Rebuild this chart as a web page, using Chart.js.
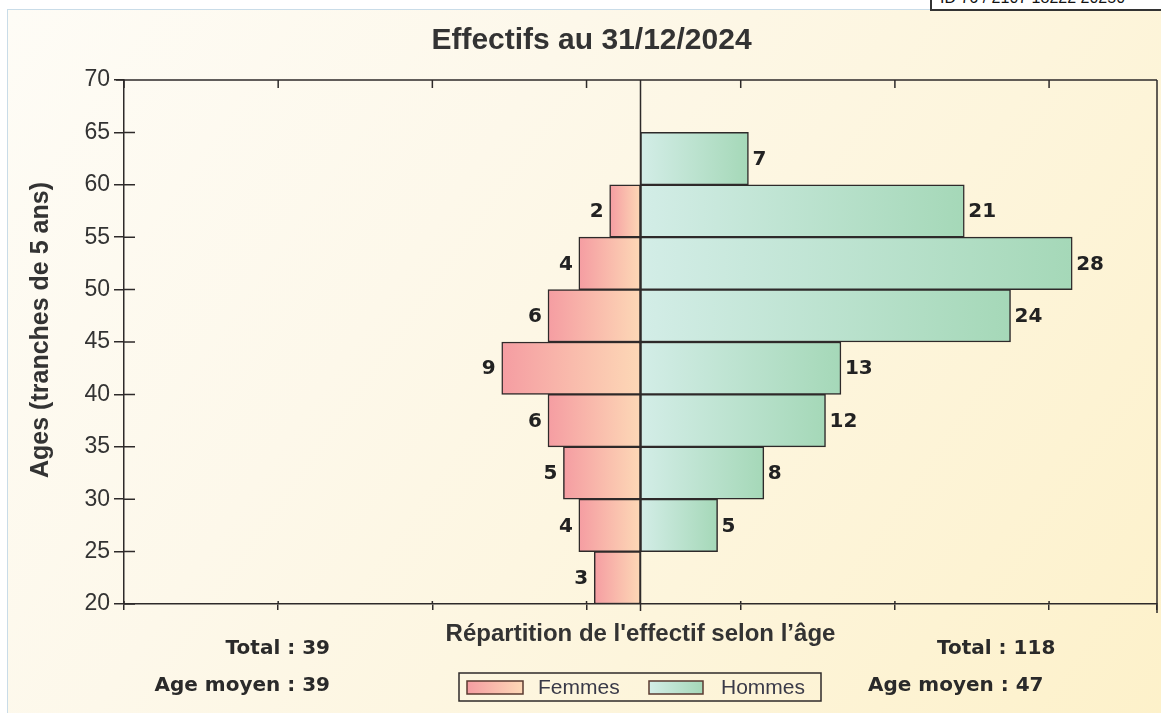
<!DOCTYPE html>
<html><head><meta charset="utf-8">
<script src="https://cdn.jsdelivr.net/npm/chart.js@4/dist/chart.umd.min.js"></script>
<style>
html,body{margin:0;padding:0;background:#fff;width:1161px;height:713px;overflow:hidden;position:relative;}
#bg{position:absolute;left:7px;top:9px;width:1154px;height:704px;border-left:1px solid #c9dce8;border-top:1px solid #c9dce8;background:linear-gradient(125deg,#fefcf6 0%,#fdf8ea 35%,#fdf5dc 65%,#fdf1ca 100%);}
#idbox{position:absolute;left:930px;top:-20px;width:240px;height:27px;border:2px solid #333;background:#fff;font:16px 'Liberation Sans',Arial,sans-serif;color:#111;padding-left:8px;line-height:32px;overflow:hidden;white-space:nowrap;}
canvas{position:absolute;left:0;top:0;}
</style></head><body>
<div id="bg"></div>
<div id="idbox">ID 76 / 2107 18222 20250</div>
<canvas id="c" width="1161" height="713"></canvas>
<script>
// ---- data ----
const ageBandStarts = [20, 25, 30, 35, 40, 45, 50, 55, 60];
const bandWidth = 5;
const femmes = [3, 4, 5, 6, 9, 6, 4, 2, 0];
const hommes = [0, 5, 8, 12, 13, 24, 28, 21, 7];
const yTickValues = [20, 25, 30, 35, 40, 45, 50, 55, 60, 65, 70];
const xTickValues = [-33.5, -23.5, -13.5, -3.5, 6.5, 16.5, 26.5, 33.5];
const seriesLabels = ['Femmes', 'Hommes'];
const totals = [39, 118];
const agesMoyens = [39, 47];
const titleText = 'Effectifs au 31/12/2024';
const xTitle = "Répartition de l'effectif selon l’âge";
const yTitle = 'Ages (tranches de 5 ans)';

// ---- styles ----
const FEM = ['#f59da2', '#fdd8b6'];   // outer, inner
const HOM = ['#d3ede7', '#a5d8b8'];   // inner, outer
const INK = '#2e2a2a';

function femBg(c) {
  const chart = c.chart;
  if (c.type !== 'data' || !chart.chartArea || !c.raw || c.raw.x == null) return FEM[0];
  const xs = chart.scales.x;
  const x1 = xs.getPixelForValue(c.raw.x), x0 = xs.getPixelForValue(0);
  const g = chart.ctx.createLinearGradient(x1, 0, x0 + 0.01, 0);
  g.addColorStop(0, FEM[0]); g.addColorStop(1, FEM[1]);
  return g;
}
function homBg(c) {
  const chart = c.chart;
  if (c.type !== 'data' || !chart.chartArea || !c.raw || c.raw.x == null) return HOM[1];
  const xs = chart.scales.x;
  const x1 = xs.getPixelForValue(c.raw.x), x0 = xs.getPixelForValue(0);
  const g = chart.ctx.createLinearGradient(x0, 0, x1 + 0.01, 0);
  g.addColorStop(0, HOM[0]); g.addColorStop(1, HOM[1]);
  return g;
}

const framePlugin = {
  id: 'frame',
  afterDraw(chart) {
    const {ctx, chartArea: a, scales: {x, y}} = chart;
    ctx.save();
    ctx.strokeStyle = INK; ctx.lineWidth = 1.5;
    ctx.beginPath();
    ctx.moveTo(a.left - 8, a.top); ctx.lineTo(a.right, a.top);
    ctx.moveTo(a.right, a.top); ctx.lineTo(a.right, a.bottom + 9);
    const z = x.getPixelForValue(0);
    ctx.moveTo(z, a.top); ctx.lineTo(z, a.bottom + 7);
    y.ticks.forEach(t => {
      const py = y.getPixelForValue(t.value);
      ctx.moveTo(a.left, py); ctx.lineTo(a.left + 11, py);
    });
    x.ticks.forEach(t => {
      const px = x.getPixelForValue(t.value);
      ctx.moveTo(px, a.bottom); ctx.lineTo(px, a.bottom - 3);
      ctx.moveTo(px, a.top); ctx.lineTo(px, a.top + 8);
    });
    ctx.stroke();
    // y axis title
    ctx.save();
    ctx.translate(41, 330);
    ctx.rotate(-Math.PI / 2);
    ctx.font = 'bold 25px "Liberation Sans"';
    ctx.fillStyle = '#333';
    ctx.textAlign = 'center';
    ctx.textBaseline = 'middle';
    ctx.fillText(yTitle, 0, 0);
    ctx.restore();
    ctx.restore();
  }
};

const labelsPlugin = {
  id: 'barLabels',
  afterDatasetsDraw(chart) {
    const ctx = chart.ctx;
    ctx.save();
    ctx.font = 'bold 20px "DejaVu Sans"';
    ctx.fillStyle = '#222';
    ctx.textBaseline = 'middle';
    const sources = [femmes, hommes];
    chart.data.datasets.forEach((ds, di) => {
      const meta = chart.getDatasetMeta(di);
      meta.data.forEach((bar, j) => {
        const v = sources[di][j];
        if (!v) return;
        if (di === 0) { ctx.textAlign = 'right'; ctx.fillText(String(v), bar.x - 6, bar.y + 1); }
        else { ctx.textAlign = 'left'; ctx.fillText(String(v), bar.x + 4, bar.y + 1); }
      });
    });
    ctx.restore();
  }
};

const footerPlugin = {
  id: 'footer',
  afterDraw(chart) {
    const ctx = chart.ctx;
    ctx.save();
    ctx.font = 'bold 20px "DejaVu Sans"';
    ctx.fillStyle = '#2a2a2a';
    ctx.textBaseline = 'middle';
    ctx.textAlign = 'right';
    ctx.fillText('Total : ' + totals[0], 330, 649);
    ctx.fillText('Age moyen : ' + agesMoyens[0], 330, 686);
    ctx.textAlign = 'left';
    ctx.fillText('Total : ' + totals[1], 937, 649);
    ctx.fillText('Age moyen : ' + agesMoyens[1], 868, 686);
    // legend
    ctx.strokeStyle = INK; ctx.lineWidth = 1.5;
    ctx.strokeRect(459, 673, 362, 28);
    ctx.font = '21px "Liberation Sans"';
    const items = [
      {x: 467, w: 56, tx: 538, c: FEM},
      {x: 649, w: 54, tx: 721, c: HOM}
    ];
    items.forEach((it, i) => {
      const g = ctx.createLinearGradient(it.x, 0, it.x + it.w, 0);
      g.addColorStop(0, it.c[0]); g.addColorStop(1, it.c[1]);
      ctx.fillStyle = g;
      ctx.fillRect(it.x, 681, it.w, 13);
      ctx.strokeStyle = '#5a3a30'; ctx.lineWidth = 1.5;
      ctx.strokeRect(it.x, 681, it.w, 13);
      ctx.fillStyle = '#3a3a48';
      ctx.textAlign = 'left';
      ctx.fillText(chart.data.datasets[i].label, it.tx, 688);
    });
    ctx.restore();
  }
};

new Chart(document.getElementById('c'), {
  type: 'bar',
  data: {
    datasets: [
      {
        label: seriesLabels[0],
        data: ageBandStarts.map((a, i) => ({x: femmes[i] ? -femmes[i] : null, y: a + bandWidth / 2})),
        backgroundColor: femBg, borderColor: INK, borderWidth: 1.5, borderSkipped: false,
        categoryPercentage: 1, barPercentage: 1
      },
      {
        label: seriesLabels[1],
        data: ageBandStarts.map((a, i) => ({x: hommes[i] ? hommes[i] : null, y: a + bandWidth / 2})),
        backgroundColor: homBg, borderColor: INK, borderWidth: 1.5, borderSkipped: false,
        categoryPercentage: 1, barPercentage: 1
      }
    ]
  },
  options: {
    indexAxis: 'y',
    responsive: false,
    animation: false,
    layout: {padding: {left: 26, right: 4, top: 0, bottom: 64}},
    plugins: {
      legend: {display: false},
      tooltip: {enabled: false},
      title: {
        display: true, text: titleText, color: '#333',
        font: {family: 'Liberation Sans', size: 30, weight: 'bold', lineHeight: 1.2},
        padding: {top: 23, bottom: 21}
      }
    },
    scales: {
      x: {
        type: 'linear', min: -33.5, max: 33.5, stacked: true, offset: false,
        afterBuildTicks: s => { s.ticks = xTickValues.map(v => ({value: v})); },
        ticks: {display: false},
        grid: {offset: false, drawOnChartArea: false, drawTicks: true, tickLength: 6, color: INK, lineWidth: 1.5},
        border: {display: true, color: INK, width: 1.5},
        title: {display: true, text: xTitle, color: '#333',
          font: {family: 'Liberation Sans', size: 24, weight: 'bold', lineHeight: 1.2},
          padding: {top: 8, bottom: 0}},
        afterFit: s => { s.height = 45; }
      },
      y: {
        type: 'linear', min: 20, max: 70, stacked: true, offset: false,
        afterBuildTicks: s => { s.ticks = yTickValues.map(v => ({value: v})); },
        ticks: {font: {family: 'Liberation Sans', size: 23}, color: '#333', padding: 4},
        grid: {offset: false, drawOnChartArea: false, drawTicks: true, tickLength: 10, color: INK, lineWidth: 1.5},
        border: {display: true, color: INK, width: 1.5},
        title: {display: false},
        afterFit: s => { s.width = 98; }
      }
    }
  },
  plugins: [framePlugin, labelsPlugin, footerPlugin]
});
</script>
</body></html>
